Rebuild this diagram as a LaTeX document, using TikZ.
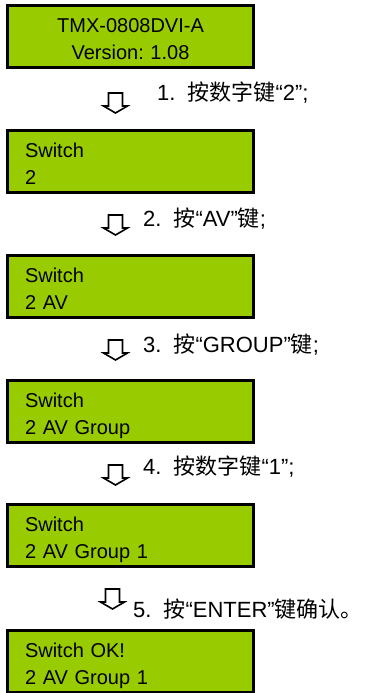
\documentclass[tikz,border=0pt]{standalone}
\usepackage{fontspec}
\setmainfont{Liberation Sans}
\newfontfamily\cjk{Noto Sans CJK SC}
\usetikzlibrary{positioning,calc}
\definecolor{lcdgreen}{RGB}{153,204,0}
\frenchspacing
\newcommand{\zh}[1]{{\cjk #1}}
\newcommand{\lcdlines}[2]{\rule{0pt}{24pt}#1\\#2\rule[-4.5pt]{0pt}{4.5pt}}
\tikzset{
  lcd/.style={draw=black, line width=3pt, fill=lcdgreen,
    minimum width=246pt, minimum height=62pt,
    inner xsep=17.5pt, inner ysep=0pt, text width=211pt,
    align=left, font=\fontsize{20}{27}\selectfont},
  steptext/.style={anchor=base west, inner sep=0pt, font=\fontsize{22}{26}\selectfont},
  pics/downarrow/.style={code={
    \draw[line width=1.6pt, line join=miter]
      (-7,-11) -- (7,-11) -- (7,2) -- (12,2) -- (0,9) -- (-12,2) -- (-7,2) -- cycle;}}
}

\begin{document}
\begin{tikzpicture}[x=1pt, y=-1pt]
    \useasboundingbox (0,0) rectangle (368,693);

    % 液晶屏显示
    \node[lcd, align=center] (lcd1) at (130.5,36.5) {\lcdlines{TMX-0808DVI-A}{Version: 1.08}};
    \node[lcd] (lcd2) at (130.5,161.5) {\lcdlines{Switch}{2}};
    \node[lcd] (lcd3) at (130.5,286.5) {\lcdlines{Switch}{2 AV}};
    \node[lcd] (lcd4) at (130.5,411.5) {\lcdlines{Switch}{2 AV Group}};
    \node[lcd] (lcd5) at (130.5,535.5) {\lcdlines{Switch}{2 AV Group 1}};
    \node[lcd] (lcd6) at (130.5,661.5) {\lcdlines{Switch OK!}{2 AV Group 1}};

    % 操作箭头
    \pic (arr1) at (115.5,104) {downarrow};
    \pic (arr2) at (115.5,226) {downarrow};
    \pic (arr3) at (115.5,351) {downarrow};
    \pic (arr4) at (115.5,476) {downarrow};
    \pic (arr5) at (112.5,600) {downarrow};

    % 操作步骤
    \node[steptext] (step1) at (157,100) {1.\hspace{12pt}\zh{按数字键}“2”;};
    \node[steptext] (step2) at (143,226) {2.\hspace{12pt}\zh{按}“AV”\zh{键};};
    \node[steptext] (step3) at (143,352) {3.\hspace{12pt}\zh{按}“GROUP”\zh{键};};
    \node[steptext] (step4) at (143,474) {4.\hspace{12pt}\zh{按数字键}“1”;};
    \node[steptext] (step5) at (133,617) {5.\hspace{12pt}\zh{按}“ENTER”\zh{键确认。}};
\end{tikzpicture}
\end{document}
